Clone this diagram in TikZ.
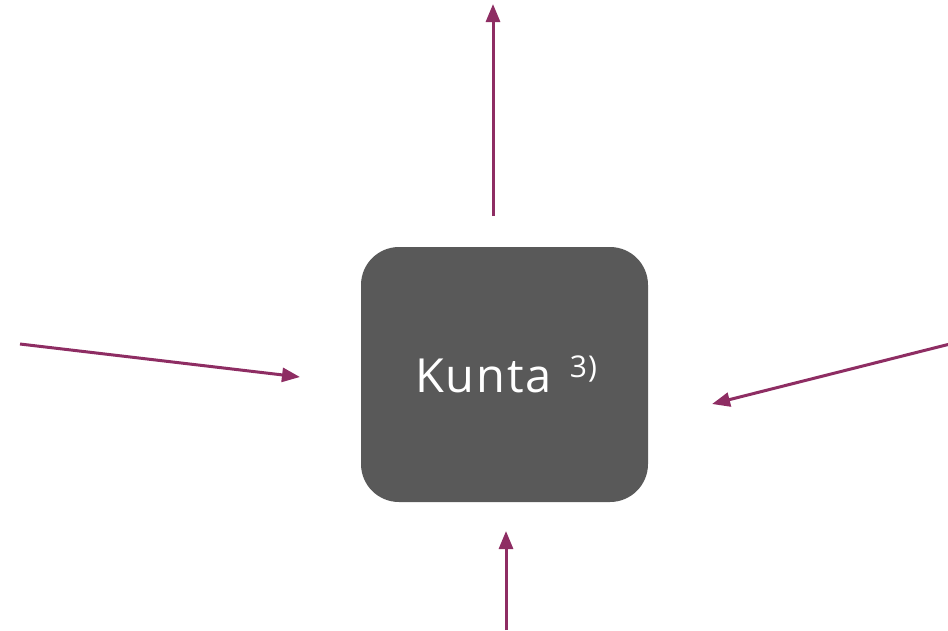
\documentclass[tikz,border=0pt]{standalone}
\usepackage{fontspec}
\setmainfont{Open Sans}
\usetikzlibrary{arrows.meta}
\definecolor{arr}{RGB}{142,45,99}
\definecolor{boxg}{RGB}{89,89,89}
\tikzset{
  conn/.style={draw=arr, line width=3pt, -{Triangle[width=14pt,length=18pt]}},
  kbox/.style={fill=boxg, rounded corners=38pt, minimum width=287pt, minimum height=255pt, inner sep=0pt}
}
\begin{document}
\begin{tikzpicture}[x=1pt,y=-1pt]
\useasboundingbox (0,0) rectangle (948,630);
\node[kbox] (k) at (504.5,374.5) {};
\node[text=white, font=\fontsize{47}{50}\selectfont\addfontfeature{LetterSpace=4}, anchor=base west, inner sep=0pt] (t) at (415,392) {Kunta\hspace{0.38em}\raisebox{0.3em}{\fontsize{30}{32}\selectfont 3)}};
\coordinate (u0) at (493,216);
\coordinate (u1) at (493,4);
\coordinate (l0) at (20,344);
\coordinate (l1) at (300,377);
\coordinate (r0) at (950,344);
\coordinate (r1) at (712,404);
\coordinate (b0) at (506,630);
\coordinate (b1) at (506,531);
\draw[conn] (u0) -- (u1);
\draw[conn] (l0) -- (l1);
\draw[conn] (r0) -- (r1);
\draw[conn] (b0) -- (b1);
\end{tikzpicture}
\end{document}
